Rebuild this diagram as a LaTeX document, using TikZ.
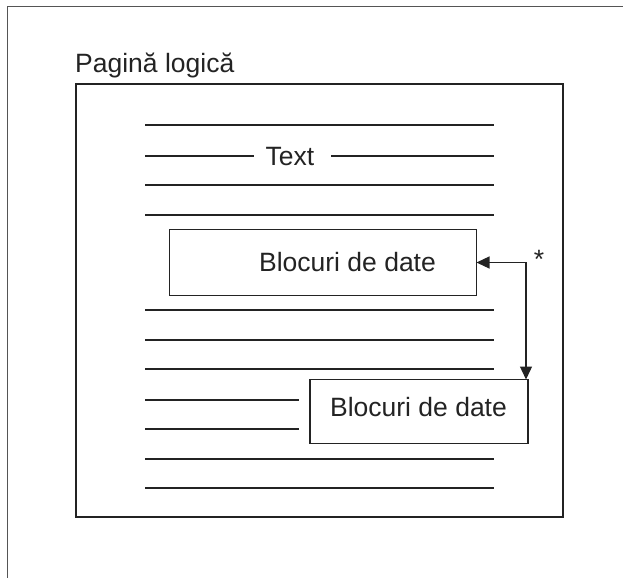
\documentclass[tikz,border=0pt]{standalone}
\usepackage{fontspec}
\setmainfont{Liberation Sans}
\usetikzlibrary{arrows.meta}
\definecolor{ink}{RGB}{35,35,35}
\definecolor{frame}{RGB}{85,85,85}
\tikzset{
  ruleline/.style={draw=ink, line width=1.3pt},
  blockbox/.style={draw=ink, line width=1.3pt, rectangle, inner sep=0pt, outer sep=0pt},
  lbl/.style={font=\fontsize{26.5}{30}\selectfont, text=ink, inner sep=0pt, anchor=base},
  conn/.style={draw=ink, line width=1.3pt, {Triangle[length=13pt,width=12pt]}-{Triangle[length=13pt,width=12pt]}},
}
\begin{document}
\begin{tikzpicture}[x=1pt,y=-1pt]
\useasboundingbox (0,0) rectangle (623,578);
% outer frame (top and left only)
\draw[frame, line width=1.3pt] (623,6.5) -- (7.5,6.5) -- (7.5,578);
% title
\node[lbl, anchor=base west] (title) at (75,72) {Pagină logică};
% inner page
\node[blockbox, minimum width=487pt, minimum height=433pt, anchor=north west] (page) at (76,84) {};
% text lines
\draw[ruleline] (145,125) -- (494,125);
\node[lbl] (txt) at (290,165) {Text};
\draw[ruleline] (145,156) -- (254,156);
\draw[ruleline] (331,156) -- (494,156);
\draw[ruleline] (145,185) -- (494,185);
\draw[ruleline] (145,215) -- (494,215);
% first data block
\node[blockbox, minimum width=307pt, minimum height=66pt, anchor=north west] (b1) at (169.5,229.5) {};
\node[lbl] (b1t) at (347.5,271.5) {Blocuri de date};
% more lines
\draw[ruleline] (145,310) -- (494,310);
\draw[ruleline] (145,340) -- (494,340);
\draw[ruleline] (145,369) -- (494,369);
\draw[ruleline] (145,400) -- (299,400);
\draw[ruleline] (145,429) -- (299,429);
\draw[ruleline] (145,459) -- (494,459);
\draw[ruleline] (145,488) -- (494,488);
% second data block
\node[blockbox, minimum width=218pt, minimum height=64pt, anchor=north west] (b2) at (310,379.5) {};
\node[lbl] (b2t) at (418.5,416.5) {Blocuri de date};
% connector
\draw[conn] (b1.east) -| ([xshift=-2pt]b2.north east);
\node[lbl] (star) at (539,268) {*};
\end{tikzpicture}
\end{document}
